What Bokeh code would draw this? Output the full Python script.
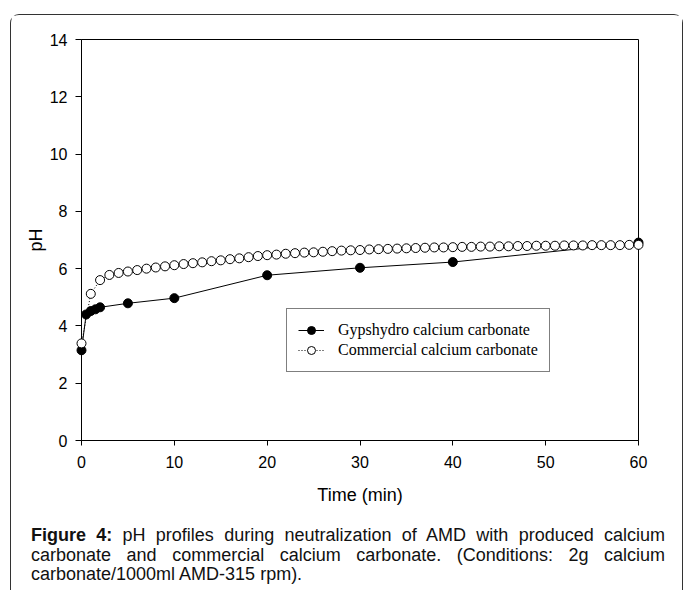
from bokeh.plotting import figure
from bokeh.models import Legend, LegendItem, Div, FixedTicker, ColumnDataSource, Range1d
from bokeh.layouts import column
from bokeh.embed import file_html
from bokeh.resources import INLINE

# ---- data ----
gyp_time = [0, 0.5, 1, 1.5, 2, 5, 10, 20, 30, 40, 60]
gyp_ph = [3.15, 4.40, 4.52, 4.58, 4.65, 4.79, 4.97, 5.77, 6.03, 6.23, 6.91]

com_time = list(range(0, 61))
com_ph = [3.39, 5.12, 5.60, 5.78, 5.85, 5.90, 5.95, 6.00, 6.04, 6.08,
          6.12, 6.16, 6.19, 6.22, 6.26, 6.29, 6.33, 6.36, 6.40, 6.44,
          6.47, 6.49, 6.52, 6.54, 6.56, 6.57, 6.59, 6.61, 6.63, 6.64,
          6.65, 6.67, 6.68, 6.69, 6.70, 6.71, 6.72, 6.73, 6.74, 6.74,
          6.75, 6.76, 6.76, 6.77, 6.77, 6.78, 6.78, 6.79, 6.79, 6.80,
          6.80, 6.80, 6.81, 6.81, 6.81, 6.82, 6.82, 6.82, 6.82, 6.83,
          6.83]

x_ticks = [0, 10, 20, 30, 40, 50, 60]
y_ticks = [0, 2, 4, 6, 8, 10, 12, 14]

series_labels = ["Gypshydro calcium carbonate", "Commercial calcium carbonate"]
x_label = "Time (min)"
y_label = "pH"
caption_bold = "Figure 4:"
caption_lines = [
    "pH profiles during neutralization of AMD with produced calcium",
    "carbonate and commercial calcium carbonate. (Conditions: 2g calcium",
    "carbonate/1000ml AMD-315 rpm).",
]

gyp_src = ColumnDataSource(dict(t=gyp_time, ph=gyp_ph))
com_src = ColumnDataSource(dict(t=com_time, ph=com_ph))

p = figure(width=671, height=500,
           x_range=Range1d(0, 60), y_range=Range1d(0, 14),
           output_backend="svg", toolbar_location=None,
           min_border_left=70, min_border_right=44,
           min_border_top=24, min_border_bottom=75)

p.xgrid.visible = False
p.ygrid.visible = False
p.outline_line_color = "black"
p.outline_line_width = 1
p.background_fill_color = "white"
p.border_fill_color = "white"

for ax in (p.xaxis[0], p.yaxis[0]):
    ax.axis_line_color = "black"
    ax.major_tick_line_color = "black"
    ax.major_tick_in = 0
    ax.minor_tick_in = 0
    ax.minor_tick_out = 0
    ax.major_label_text_font = "Liberation Sans"
    ax.major_label_text_font_size = "16px"
    ax.major_label_text_color = "black"
    ax.axis_label_text_font = "Liberation Sans"
    ax.axis_label_text_font_size = "18px"
    ax.axis_label_text_font_style = "normal"
    ax.axis_label_text_color = "black"

p.xaxis.ticker = FixedTicker(ticks=x_ticks)
p.yaxis.ticker = FixedTicker(ticks=y_ticks)
p.xaxis.major_tick_out = 5
p.yaxis.major_tick_out = 6
p.xaxis.major_label_standoff = 10
p.yaxis.major_label_standoff = 8
p.xaxis.axis_label = x_label
p.yaxis.axis_label = y_label
p.xaxis.axis_label_standoff = 14
p.yaxis.axis_label_standoff = 1

r1 = p.line("t", "ph", source=gyp_src, line_color="black", line_width=1)
r3 = p.line("t", "ph", source=com_src, line_color="black", line_width=1,
            line_dash="1 2")
r2 = p.scatter("t", "ph", source=gyp_src, marker="circle", size=9,
               fill_color="black", line_color="black", level="overlay")
r4 = p.scatter("t", "ph", source=com_src, marker="circle", size=9,
               fill_color="white", line_color="black", line_width=1,
               level="overlay")

legend = Legend(items=[LegendItem(label=series_labels[0], renderers=[r1, r2]),
                       LegendItem(label=series_labels[1], renderers=[r3, r4])],
                location=(205, 68), margin=0, padding=11, spacing=0,
                glyph_width=26, glyph_height=20, label_height=20,
                label_standoff=14,
                label_text_font="Liberation Serif", label_text_font_size="16px",
                label_text_color="black",
                border_line_color="black", border_line_width=1,
                background_fill_color="white", background_fill_alpha=1)
p.add_layout(legend)

just = "display:block;width:634px;text-align:justify;text-align-last:justify;height:19.5px;"
html = ('<div style="display:block;width:634px;font-family:\'Liberation Sans\',Arial,sans-serif;'
        'font-size:18px;line-height:19.5px;color:#111;padding:11px 17px 0 20px;">'
        '<div style="' + just + '"><b>' + caption_bold + '</b> '
        + caption_lines[0] + '</div>'
        '<div style="' + just + '">' + caption_lines[1] + '</div>'
        '<div style="display:block;text-align:left;white-space:nowrap;height:19.5px;">'
        + caption_lines[2] + '</div>'
        '</div>')

caption = Div(text=html, width=671, height=75, margin=0)

layout = column(p, caption, margin=(14, 0, 0, 10),
                styles={"border": "1px solid #333", "border-bottom": "none",
                        "border-radius": "9px 9px 0 0"})

open("out.html", "w").write(file_html(layout, INLINE))
